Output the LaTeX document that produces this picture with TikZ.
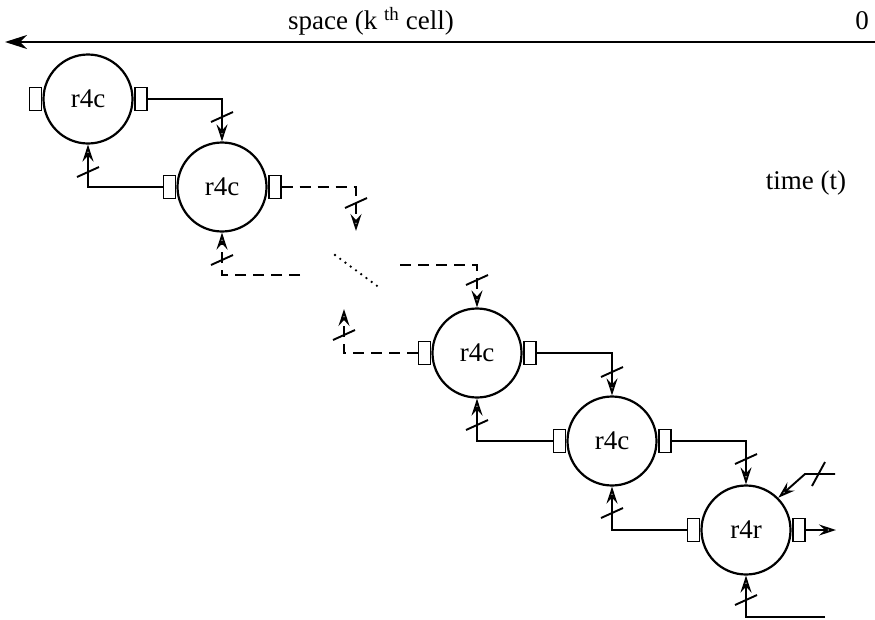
\documentclass[tikz,border=0pt]{standalone}
\usepackage{fontspec}
\setmainfont{Liberation Serif}
\usetikzlibrary{arrows.meta,calc}
\begin{document}
\begin{tikzpicture}[x=1pt,y=-1pt,
  cell/.style={circle,draw,line width=2.2pt,minimum size=89pt,inner sep=0pt,font=\fontsize{27}{32}\selectfont},
  port/.style={rectangle,draw,line width=1.9pt,minimum width=12pt,minimum height=23pt,inner sep=0pt,fill=white},
  conn/.style={line width=1.9pt,-{Stealth[open,length=17pt,width=11pt,inset=6pt]}},
  dconn/.style={conn,dash pattern=on 11pt off 7pt},
  slash/.style={line width=1.9pt},
  lbl/.style={font=\fontsize{27}{32}\selectfont,inner sep=0pt}]
\useasboundingbox (0,0) rectangle (875,619);
% axis
\coordinate (ax0) at (875,42);
\coordinate (ax1) at (5,42);
\draw[line width=2.2pt,-{Stealth[length=22pt,width=14pt,inset=7pt]}] (ax0) -- (ax1);
\node[lbl] (sp) at (371,21) {space (k \textsuperscript{th} cell)};
\node[lbl] (zero) at (862,21) {0};
\node[lbl] (time) at (806,183) {time (t)};
% cells
\node[cell] (c1) at (88,99) {r4c};
\node[cell] (c2) at (222,187) {r4c};
\node[cell] (c3) at (477,353) {r4c};
\node[cell] (c4) at (612,441) {r4c};
\node[cell] (c5) at (746,530) {r4r};
\foreach \c in {c1,c2,c3,c4,c5}{
  \node[port,anchor=east] (\c l) at (\c.west) {};
  \node[port,anchor=west] (\c r) at (\c.east) {};
}
% solid connectors
\draw[conn] (c1r.east) -| (c2.north);
\draw[conn] (c2l.west) -| (c1.south);
\draw[conn] (c3r.east) -| (c4.north);
\draw[conn] (c4l.west) -| (c3.south);
\draw[conn] (c4r.east) -| (c5.north);
\draw[conn] (c5l.west) -| (c4.south);
% dashed connectors
\coordinate (d1) at (356,231);
\draw[dconn] (c2r.east) -| (d1);
\coordinate (d2) at (300,275);
\draw[dconn] (d2) -| (c2.south);
\coordinate (d3) at (400,265);
\draw[dconn] (d3) -| (c3.north);
\coordinate (d4) at (344,309);
\draw[dconn] (c3l.west) -| (d4);
% dotted
\coordinate (e1) at (335,255);
\coordinate (e2) at (380,288);
\draw[line width=2.6pt,line cap=round,dash pattern=on 0pt off 6.5pt] (e1) -- (e2);
% r4r inputs / output
\coordinate (o1) at (836,530);
\draw[conn] (c5r.east) -- (o1);
\coordinate (i1) at (835,474);
\coordinate (i2) at (805,474);
\draw[conn] (i1) -- (i2) -- (c5.45);
\coordinate (b1) at (825,617);
\draw[conn] (b1) -| (c5.south);
% slash marks
\foreach \p in {(222,117),(88,172),(356,203),(222,260),(477,280),(344,335),(612,372),(477,425),(746,459),(612,513),(746,600)}{
  \draw[slash] \p ++(-11,5) -- ++(22,-10);
}
\draw[slash] (812,486) -- (825,462);
\end{tikzpicture}
\end{document}
